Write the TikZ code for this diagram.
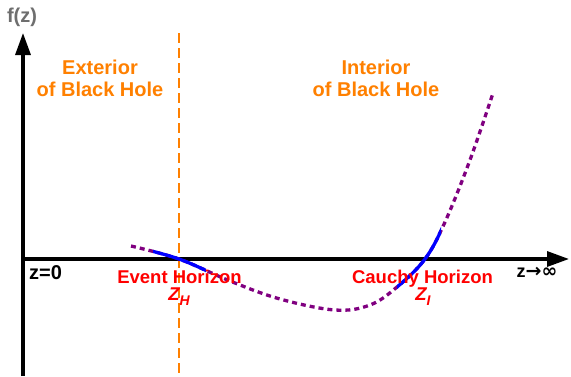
\documentclass[tikz,border=0pt]{standalone}
\usepackage{fontspec}
\setmainfont{Liberation Sans}
\newfontfamily\symfont{DejaVu Sans}
\usetikzlibrary{arrows.meta}
\definecolor{orng}{RGB}{255,128,0}
\definecolor{purp}{RGB}{128,0,128}
\definecolor{gry}{RGB}{110,110,110}
\tikzset{
  axis/.style={line width=3.3pt, -{Triangle[length=22pt,width=15pt]}},
  lbl/.style={font=\bfseries\fontsize{20}{22}\selectfont, inner sep=0pt, align=center},
  region/.style={lbl, text=orng},
  horizon/.style={lbl, font=\bfseries\fontsize{18.5}{20}\selectfont, text=red},
  curvestyle/.style={purp, line width=3.3pt, dash pattern=on 5pt off 4pt},
  bluestyle/.style={blue, line width=3.3pt},
}
\begin{document}
\begin{tikzpicture}[x=1pt,y=-1pt]
\useasboundingbox (0,0) rectangle (571,376);
\coordinate (o) at (23,259);
\coordinate (ytop) at (23,33);
\coordinate (ybot) at (23,376);
\coordinate (xend) at (569,259);
\coordinate (htop) at (179,33);
\coordinate (hbot) at (179,376);
% horizon line
\draw[orng, line width=2.8pt, dash pattern=on 10pt off 5pt] (htop) -- (hbot);
% axes
\draw[axis] (ybot) -- (ytop);
\draw[axis] (o) -- (xend);
% curve
\def\curve{plot[smooth,tension=0.6] coordinates {(131,246) (179,259) (230,281) (280,299) (335,310) (370,305) (397,287) (425,259) (445,222) (470,160) (493,93)}}
\draw[curvestyle] \curve;
\begin{scope}
\clip (153,200) rectangle (206,300);
\draw[bluestyle] \curve;
\end{scope}
\begin{scope}
\clip (397,200) rectangle (441,300);
\draw[bluestyle] \curve;
\end{scope}
% labels
\node[lbl, text=gry, anchor=base] (fz) at (22,22) {f(z)};
\node[lbl, text=black, anchor=base] (z0) at (45.5,279) {z=0};
\node[lbl, font=\bfseries\fontsize{18}{20}\selectfont, text=black, anchor=base] (zinf) at (537,277) {z{\symfont\bfseries\fontsize{19}{20}\selectfont→∞}};
\node[region, anchor=base] (ext) at (100,96) {Exterior\\of Black Hole};
\node[region, anchor=base] (int) at (376,96) {Interior\\of Black Hole};
\node[horizon, anchor=base] (eh) at (179.5,283) {Event Horizon};
\node[horizon, anchor=base] (ch) at (422.5,283) {Cauchy Horizon};
\node[horizon, anchor=base] (zh) at (179,300) {\itshape Z\raisebox{-5pt}{\fontsize{14}{14}\selectfont H}};
\node[horizon, anchor=base] (zi) at (423,300) {\itshape Z\raisebox{-5pt}{\fontsize{14}{14}\selectfont I}};
\end{tikzpicture}
\end{document}
